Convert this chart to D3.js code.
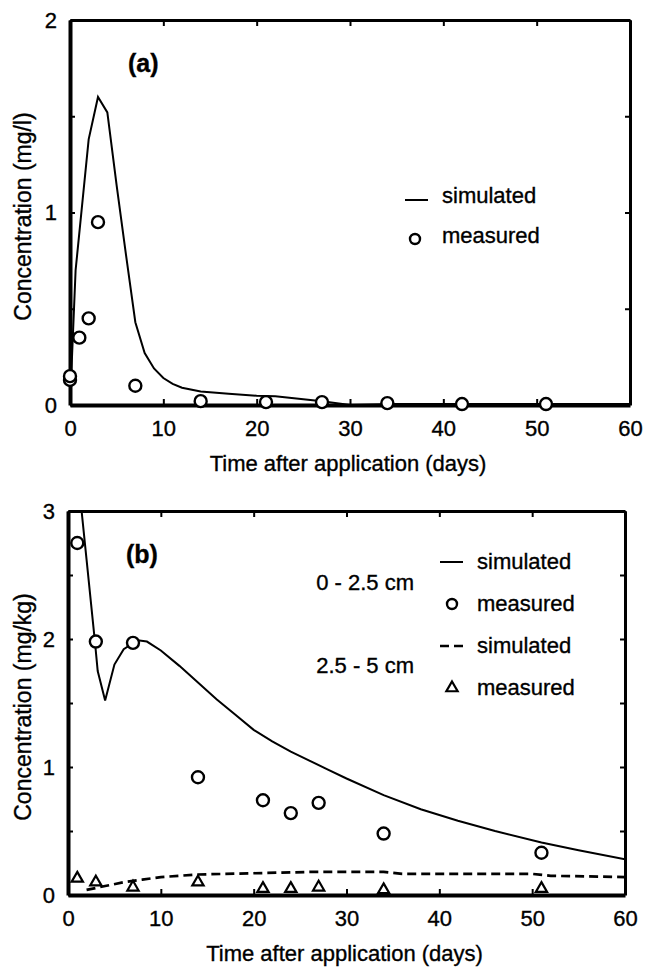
<!DOCTYPE html>
<html>
<head>
<meta charset="utf-8">
<script src="https://cdn.jsdelivr.net/npm/d3@7"></script>
<style>
  body { margin: 0; background: #fff; }
  svg { display: block; font-family: "Liberation Sans", Arial, sans-serif; }
  svg text { stroke: #000; stroke-width: 0.35px; }
</style>
</head>
<body>
<div id="chart"></div>
<script>
// ---- data ----
const xTicks = [0, 10, 20, 30, 40, 50, 60]
const yTicksA = [0, 0.5, 1, 1.5, 2]
const yTicksB = [0, 0.5, 1, 1.5, 2, 2.5, 3]

// (a) water concentration, mg/l
const simA_days = [0, 0.6, 2, 3, 4, 5, 6, 7, 8, 9, 10, 11, 12, 14, 17, 20, 22, 25, 27, 30, 35, 40, 45, 50, 55, 60]
const simA_conc = [0, 0.70, 1.38, 1.60, 1.52, 1.14, 0.78, 0.43, 0.27, 0.19, 0.14, 0.11, 0.09, 0.07, 0.058, 0.048, 0.045, 0.03, 0.02, 0.0, 0.005, 0.005, 0.005, 0.005, 0.005, 0.005]
const measA_days = [0, 0, 1, 2, 3, 7, 14, 21, 27, 34, 42, 51]
const measA_conc = [0.13, 0.15, 0.35, 0.45, 0.95, 0.10, 0.02, 0.015, 0.015, 0.01, 0.005, 0.005]

// (b) soil concentration, mg/kg
const simB1_days = [1, 2, 2.9, 3.2, 4, 5, 6, 7.5, 8.5, 10, 12, 14, 16, 18, 20, 22, 24, 26, 28, 30, 34, 38, 42, 46, 51, 55, 60]
const simB1_conc = [3.33, 2.62, 1.98, 1.75, 1.52, 1.80, 1.92, 1.99, 1.98, 1.91, 1.79, 1.66, 1.53, 1.41, 1.29, 1.20, 1.12, 1.05, 0.98, 0.91, 0.78, 0.67, 0.58, 0.50, 0.41, 0.35, 0.28]
const measB1_days = [1, 3, 7, 14, 21, 24, 27, 34, 51]
const measB1_conc = [2.75, 1.98, 1.97, 0.92, 0.74, 0.64, 0.72, 0.48, 0.33]
const simB2_days = [2, 4, 6, 8, 10, 14, 20, 26, 34, 36, 45, 50, 52, 56, 60]
const simB2_conc = [0.04, 0.07, 0.10, 0.12, 0.14, 0.16, 0.17, 0.18, 0.18, 0.165, 0.165, 0.165, 0.15, 0.145, 0.14]
const measB2_days = [1, 3, 7, 14, 21, 24, 27, 34, 51]
const measB2_conc = [0.13, 0.10, 0.06, 0.10, 0.05, 0.05, 0.06, 0.04, 0.05]

const pts = (xs, ys) => xs.map((d, i) => [d, ys[i]])

const svg = d3.select('#chart')
  .append('svg')
  .attr('width', 654)
  .attr('height', 974)

function panel (cfg) {
  const x = d3.scaleLinear().domain([0, 60]).range([cfg.left, cfg.right])
  const y = d3.scaleLinear().domain([0, cfg.yMax]).range([cfg.bottom, cfg.top])
  const g = svg.append('g')

  g.append('clipPath').attr('id', 'clip-' + cfg.id)
    .append('rect')
    .attr('x', cfg.left).attr('y', cfg.top)
    .attr('width', cfg.right - cfg.left).attr('height', cfg.bottom - cfg.top)

  const label = d => Number.isInteger(d) ? d : ''
  const style = (sel, w) => {
    sel.select('.domain').attr('stroke-width', w)
    sel.selectAll('.tick line').attr('stroke-width', 2)
    sel.selectAll('.tick text').attr('font-size', 22).attr('fill', '#000')
  }

  g.append('g')
    .attr('transform', `translate(0,${cfg.bottom})`)
    .call(d3.axisBottom(x).tickValues(xTicks).tickSize(-6).tickSizeOuter(0).tickPadding(15))
    .call(s => style(s, 4))
  g.append('g')
    .attr('transform', `translate(0,${cfg.top})`)
    .call(d3.axisTop(x).tickValues(xTicks).tickSize(-6).tickSizeOuter(0).tickFormat(''))
    .call(s => style(s, 3))
  g.append('g')
    .attr('transform', `translate(${cfg.left},0)`)
    .call(d3.axisLeft(y).tickValues(cfg.yTicks).tickSize(-5).tickSizeOuter(0).tickPadding(13).tickFormat(label))
    .call(s => style(s, 4))
  g.append('g')
    .attr('transform', `translate(${cfg.right},0)`)
    .call(d3.axisRight(y).tickValues(cfg.yTicks).tickSize(-5).tickSizeOuter(0).tickFormat(''))
    .call(s => style(s, 3))

  g.append('text')
    .attr('x', (cfg.left + cfg.right) / 2 - 2)
    .attr('y', cfg.bottom + 66)
    .attr('text-anchor', 'middle')
    .attr('font-size', 22)
    .text('Time after application (days)')

  g.append('text')
    .attr('transform', `translate(31,${(cfg.top + cfg.bottom) / 2 + 4}) rotate(-90)`)
    .attr('text-anchor', 'middle')
    .attr('font-size', 23)
    .text(cfg.yTitle)

  g.append('text')
    .attr('x', cfg.left + 58)
    .attr('y', cfg.top + 52)
    .attr('font-size', 25)
    .attr('font-weight', 'bold')
    .text(cfg.tag)

  return { x, y, g }
}

const line = (x, y) => d3.line().x(d => x(d[0])).y(d => y(d[1]))

function circles (p, data) {
  p.g.append('g')
    .selectAll('circle')
    .data(data)
    .join('circle')
    .attr('cx', d => p.x(d[0]))
    .attr('cy', d => p.y(d[1]))
    .attr('r', 6)
    .attr('fill', '#fff')
    .attr('stroke', '#000')
    .attr('stroke-width', 2.4)
}

// ---- panel (a) ----
const pa = panel({ id: 'a', left: 70, right: 630, top: 20, bottom: 405, yMax: 2, yTicks: yTicksA, yTitle: 'Concentration (mg/l)', tag: '(a)' })

pa.g.append('path')
  .datum(pts(simA_days, simA_conc))
  .attr('clip-path', 'url(#clip-a)')
  .attr('fill', 'none')
  .attr('stroke', '#000')
  .attr('stroke-width', 2)
  .attr('d', line(pa.x, pa.y))
circles(pa, pts(measA_days, measA_conc))

const legA = pa.g.append('g')
legA.append('line').attr('x1', 405).attr('x2', 428).attr('y1', 200).attr('y2', 200)
  .attr('stroke', '#000').attr('stroke-width', 2)
legA.append('circle').attr('cx', 415).attr('cy', 239).attr('r', 5)
  .attr('fill', '#fff').attr('stroke', '#000').attr('stroke-width', 2.4)
legA.selectAll('text')
  .data(['simulated', 'measured'])
  .join('text')
  .attr('x', 442)
  .attr('y', (d, i) => 203 + i * 40)
  .attr('font-size', 22)
  .text(d => d)

// ---- panel (b) ----
const pb = panel({ id: 'b', left: 68, right: 625, top: 511, bottom: 895, yMax: 3, yTicks: yTicksB, yTitle: 'Concentration (mg/kg)', tag: '(b)' })

pb.g.append('path')
  .datum(pts(simB1_days, simB1_conc))
  .attr('clip-path', 'url(#clip-b)')
  .attr('fill', 'none')
  .attr('stroke', '#000')
  .attr('stroke-width', 2)
  .attr('d', line(pb.x, pb.y))
pb.g.append('path')
  .datum(pts(simB2_days, simB2_conc))
  .attr('clip-path', 'url(#clip-b)')
  .attr('fill', 'none')
  .attr('stroke', '#000')
  .attr('stroke-width', 2.7)
  .attr('stroke-dasharray', '9,5')
  .attr('d', line(pb.x, pb.y))
circles(pb, pts(measB1_days, measB1_conc))

const tri = d3.symbol(d3.symbolTriangle, 55)
pb.g.append('g')
  .selectAll('path')
  .data(pts(measB2_days, measB2_conc))
  .join('path')
  .attr('transform', d => `translate(${pb.x(d[0])},${pb.y(d[1])})`)
  .attr('d', tri)
  .attr('fill', '#fff')
  .attr('stroke', '#000')
  .attr('stroke-width', 2.2)

const legB = pb.g.append('g')
legB.append('line').attr('x1', 440).attr('x2', 463).attr('y1', 562).attr('y2', 562)
  .attr('stroke', '#000').attr('stroke-width', 2)
legB.append('circle').attr('cx', 452).attr('cy', 604).attr('r', 5)
  .attr('fill', '#fff').attr('stroke', '#000').attr('stroke-width', 2.4)
legB.append('line').attr('x1', 440).attr('x2', 463).attr('y1', 646).attr('y2', 646)
  .attr('stroke', '#000').attr('stroke-width', 2.7).attr('stroke-dasharray', '9,5')
legB.append('path').attr('transform', 'translate(452,688)').attr('d', tri)
  .attr('fill', '#fff').attr('stroke', '#000').attr('stroke-width', 2.2)
legB.selectAll('text.item')
  .data(['simulated', 'measured', 'simulated', 'measured'])
  .join('text')
  .attr('class', 'item')
  .attr('x', 477)
  .attr('y', (d, i) => 569 + i * 42)
  .attr('font-size', 22)
  .text(d => d)
legB.selectAll('text.depth')
  .data(['0 - 2.5 cm', '2.5 - 5 cm'])
  .join('text')
  .attr('class', 'depth')
  .attr('x', 414)
  .attr('y', (d, i) => 590 + i * 83)
  .attr('text-anchor', 'end')
  .attr('font-size', 22)
  .text(d => d)
</script>
</body>
</html>
